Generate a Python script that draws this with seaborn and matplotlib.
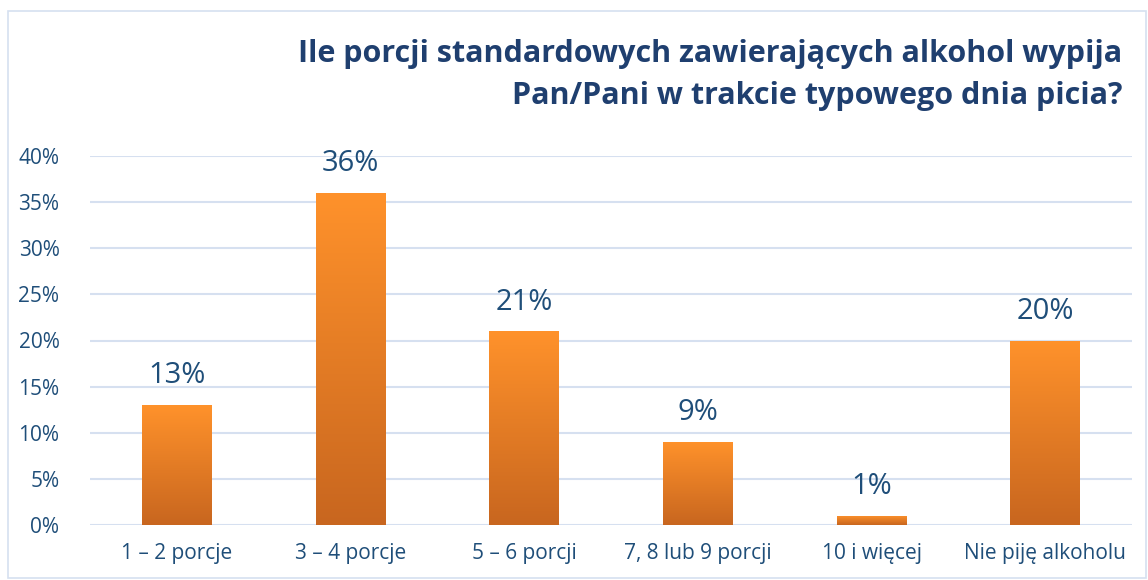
import numpy as np
import pandas as pd
import seaborn as sns
import matplotlib.pyplot as plt
from matplotlib.patches import Rectangle
from matplotlib.colors import LinearSegmentedColormap

# dane z wykresu
kategorie = ["1 – 2 porcje", "3 – 4 porcje", "5 – 6 porcji", "7, 8 lub 9 porcji", "10 i więcej", "Nie piję alkoholu"]
procent = [13, 36, 21, 9, 1, 20]
yticks = [0, 5, 10, 15, 20, 25, 30, 35, 40]
tytul = "Ile porcji standardowych zawierających alkohol wypija\nPan/Pani w trakcie typowego dnia picia?"

df = pd.DataFrame({"kategoria": kategorie, "procent": procent})

sns.set_style("white")
plt.rcParams["font.family"] = ["Open Sans", "DejaVu Sans"]

granat = "#1F4E79"
siatka = "#D6E0F0"

fig = plt.figure(figsize=(11.48, 5.8), dpi=100)
ax = fig.add_axes([90 / 1148, 55 / 580, 1042 / 1148, 369 / 580])

sns.barplot(data=df, x="kategoria", y="procent", color="#F28A2A", width=0.40, ax=ax, zorder=3)

# gradient na słupkach
cmap = LinearSegmentedColormap.from_list("pom", ["#C8661F", "#FF922B"])
grad = np.linspace(0, 1, 256).reshape(-1, 1)
for p in ax.patches:
    x0, y0, w, h = p.get_x(), p.get_y(), p.get_width(), p.get_height()
    im = ax.imshow(grad, cmap=cmap, extent=[x0, x0 + w, y0, y0 + h], origin="lower",
                   aspect="auto", zorder=4)
    im.set_clip_path(p)
    p.set_edgecolor("none")

ax.set_ylim(0, 40)
ax.set_xlim(-0.5, len(kategorie) - 0.5)
ax.set_yticks(yticks)
ax.set_yticklabels([f"{t}%" for t in yticks])
ax.yaxis.grid(True, color=siatka, linewidth=1.5, zorder=0)
ax.set_axisbelow(True)
for s in ax.spines.values():
    s.set_visible(False)
ax.set_xlabel("")
ax.set_ylabel("")
ax.tick_params(axis="y", colors=granat, labelsize=15, length=0, pad=22)
ax.tick_params(axis="x", colors=granat, labelsize=15, length=0, pad=13)

for i, v in enumerate(procent):
    ax.text(i, v + 1.6, f"{v}%", ha="center", va="bottom", fontsize=21, color=granat, zorder=5)

fig.text(1122 / 1148, 1 - 75 / 580, tytul, ha="right", va="center", fontsize=22,
         fontweight="bold", color="#1F3F6F", linespacing=1.55, transform=fig.transFigure)

# ramka wykresu
fig.patches.append(Rectangle((8 / 1148, 2 / 580), 1138 / 1148, 567 / 580, transform=fig.transFigure,
                             fill=False, edgecolor="#D6E0F0", linewidth=1.2))

fig.savefig("out.png", dpi=100)
